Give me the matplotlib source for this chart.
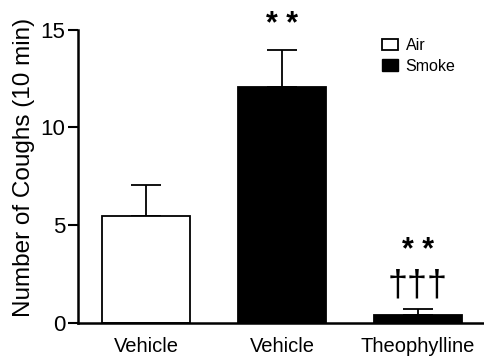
import matplotlib.pyplot as plt
from matplotlib.patches import Patch

plt.rcParams['font.family'] = ['Liberation Sans', 'DejaVu Sans']

groups = ['Vehicle', 'Vehicle', 'Theophylline']
means = [5.45, 12.05, 0.43]
sems = [1.62, 1.9, 0.26]
colors = ['white', 'black', 'black']

fig = plt.figure(figsize=(4.84, 3.57), dpi=100)
ax = fig.add_axes([78 / 484, 1 - 323 / 357, 406 / 484, 293.5 / 357])

x = range(len(groups))
ax.bar(x, means, width=0.65, color=colors, edgecolor='black', linewidth=1.3, zorder=2)
ax.errorbar(x, means, yerr=[[0] * 3, sems], fmt='none', ecolor='black',
            elinewidth=1.3, capsize=11, capthick=1.3, zorder=1)

ax.set_xlim(-0.5, 2.485)
ax.set_ylim(0, 15)
ax.set_yticks([0, 5, 10, 15])
ax.set_xticks(list(x))
ax.set_xticklabels(groups, fontsize=14.5)
ax.tick_params(axis='x', length=0, pad=10)
ax.tick_params(axis='y', labelsize=16, width=1.5, length=7, pad=2)
ax.set_ylabel('Number of Coughs (10 min)', fontsize=17.5)
ax.yaxis.set_label_coords(-0.106, 0.53)
for s in ['top', 'right']:
    ax.spines[s].set_visible(False)
for s in ['left', 'bottom']:
    ax.spines[s].set_linewidth(1.8)

top = [m + e for m, e in zip(means, sems)]
ax.text(1, top[1] + 1.3, '* *', ha='center', va='center',
        fontsize=22, fontweight='bold')
ax.text(2, top[2] + 3.0, '* *', ha='center', va='center',
        fontsize=22, fontweight='bold')
ax.text(2, top[2] + 1.2, '†††', ha='center', va='center', fontsize=26)

handles = [Patch(facecolor='white', edgecolor='black', linewidth=1.3, label='Air'),
           Patch(facecolor='black', edgecolor='black', label='Smoke')]
ax.legend(handles=handles, loc='upper right', bbox_to_anchor=(0.965, 1.02),
          frameon=False, fontsize=11.5, handlelength=1.0, handleheight=0.75,
          handletextpad=0.5, labelspacing=0.35)

fig.savefig('out.png', dpi=100)
